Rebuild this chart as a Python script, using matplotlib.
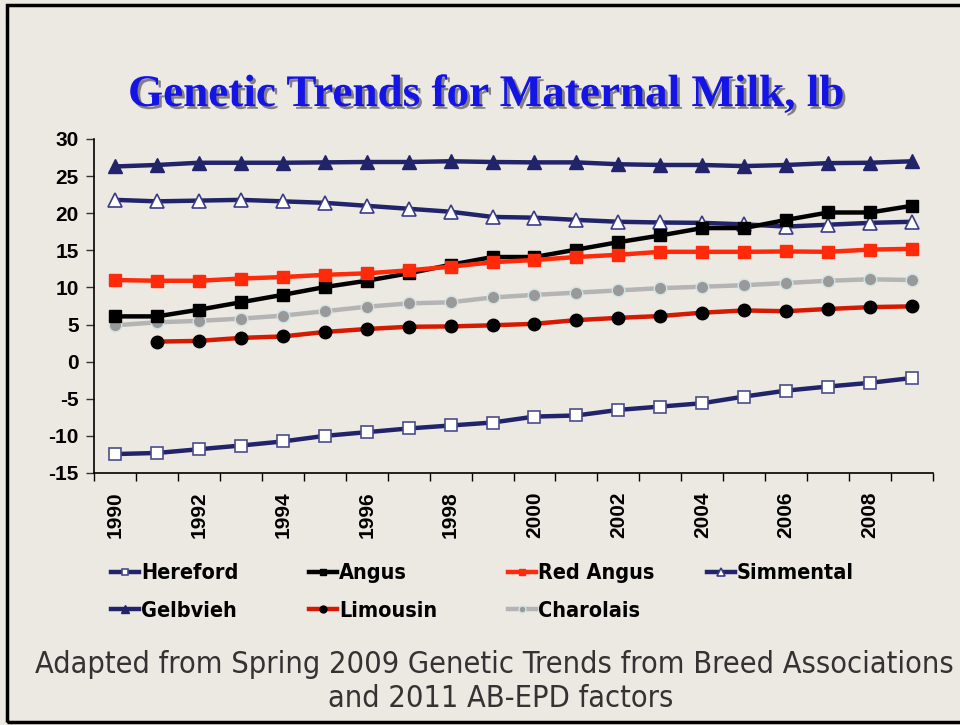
import numpy as np
import matplotlib
matplotlib.use("Agg")
import matplotlib.pyplot as plt
import matplotlib.patheffects as pe
from matplotlib.patches import Rectangle

# ---- data (lb) ----
years = list(range(1990, 2010))

hereford  = [-12.45, -12.3, -11.8, -11.3, -10.75, -10.0, -9.5, -9.0, -8.6, -8.2,
             -7.4, -7.25, -6.5, -6.05, -5.6, -4.7, -3.9, -3.35, -2.85, -2.2]
angus     = [6.1, 6.1, 7.0, 8.0, 9.0, 10.05, 10.9, 11.9, 13.05, 14.1,
             14.1, 15.1, 16.1, 17.0, 18.0, 18.0, 19.1, 20.1, 20.1, 21.0]
red_angus = [11.0, 10.9, 10.9, 11.2, 11.4, 11.7, 11.9, 12.3, 12.8, 13.4,
             13.7, 14.1, 14.4, 14.8, 14.8, 14.8, 14.85, 14.8, 15.1, 15.2]
simmental = [21.8, 21.6, 21.7, 21.8, 21.6, 21.4, 21.0, 20.6, 20.2, 19.5,
             19.4, 19.1, 18.85, 18.75, 18.7, 18.5, 18.2, 18.45, 18.7, 18.85]
gelbvieh  = [26.3, 26.5, 26.8, 26.8, 26.8, 26.85, 26.9, 26.9, 27.0, 26.9,
             26.85, 26.85, 26.6, 26.5, 26.5, 26.35, 26.5, 26.75, 26.8, 27.0]
limousin  = [np.nan, 2.7, 2.8, 3.2, 3.4, 4.0, 4.4, 4.7, 4.75, 4.9,
             5.1, 5.6, 5.9, 6.15, 6.6, 6.9, 6.8, 7.1, 7.35, 7.45]
charolais = [4.9, 5.3, 5.5, 5.8, 6.2, 6.8, 7.4, 7.85, 8.0, 8.65,
             9.0, 9.3, 9.6, 9.9, 10.1, 10.3, 10.6, 10.9, 11.1, 11.0]

yticks = list(range(-15, 31, 5))

BG = "#ECE8E2"
NAVY = "#22246A"

fig = plt.figure(figsize=(9.6, 7.25), dpi=100, facecolor=BG)
ax = fig.add_axes([94 / 960, 1 - 473 / 725, 839 / 960, 334 / 725])
ax.set_facecolor("none")

x = np.arange(len(years))
lw = 3.2
ms = 9.0

series = [
    ("Hereford",  hereford,  dict(color=NAVY, marker="s", mfc="white", mec="#4A4C8C", mew=1.2)),
    ("Angus",     angus,     dict(color="black", marker="s", mfc="black", mec="black")),
    ("Red Angus", red_angus, dict(color="#FF2A0A", marker="s", mfc="#FF2A0A", mec="#FF2A0A")),
    ("Simmental", simmental, dict(color=NAVY, marker="^", mfc="white", mec="#3A3C88", mew=1.2)),
    ("Gelbvieh",  gelbvieh,  dict(color=NAVY, marker="^", mfc=NAVY, mec=NAVY)),
    ("Limousin",  limousin,  dict(color="#D41A00", marker="o", mfc="black", mec="black")),
    ("Charolais", charolais, dict(color="#B4B4B4", marker="o", mfc="#999999", mec="#CFE3E6", mew=1.0)),
]

handles = {}
# draw back-to-front roughly as the slide does
order = ["Charolais", "Limousin", "Hereford", "Simmental", "Gelbvieh", "Angus", "Red Angus"]
lookup = {n: (v, s) for n, v, s in series}
for name in order:
    vals, style = lookup[name]
    h, = ax.plot(x, vals, lw=lw, ms=ms if style["marker"] != "^" else ms + 1,
                 label=name, solid_joinstyle="miter", **style)
    handles[name] = h

ax.set_xlim(-0.5, len(years) - 0.5)
ax.set_ylim(-15, 30)
ax.set_yticks(yticks)
ax.set_yticklabels([str(t) for t in yticks], fontsize=15, fontweight="bold",
                   family="Liberation Sans")
ax.set_xticks(np.arange(-0.5, len(years), 1.0))
ax.set_xticklabels([])
ax.set_xticks(x[::2], minor=True)
ax.set_xticklabels([str(y) for y in years[::2]], minor=True, rotation=90,
                   fontsize=15, fontweight="bold", family="Liberation Sans")
ax.tick_params(axis="x", which="major", direction="out", length=6, width=1, color="black")
ax.tick_params(axis="x", which="minor", length=0, pad=13)
ax.tick_params(axis="y", direction="out", length=6, width=1, color="#333333", pad=5)
for s in ("top", "right"):
    ax.spines[s].set_visible(False)
for s in ("left", "bottom"):
    ax.spines[s].set_linewidth(1.2)
    ax.spines[s].set_color("black")

# legend: four columns, two rows, like the Excel legend
cols = [(103, ["Hereford", "Gelbvieh"]), (301, ["Angus", "Limousin"]),
        (500, ["Red Angus", "Charolais"]), (699, ["Simmental"])]
for cx, names in cols:
    fig.legend([handles[n] for n in names], names,
               loc="upper left", bbox_to_anchor=(cx / 960 - 0.012, 1 - 544 / 725),
               frameon=False, markerscale=0.55, handlelength=1.3,
               handletextpad=0.1, labelspacing=0.8,
               prop=dict(family="DejaVu Sans", stretch="condensed", weight="bold", size=15.5))

# title with drop shadow
fig.text(0.506, 1 - 106 / 725, "Genetic Trends for Maternal Milk, lb",
         ha="center", va="baseline", color="#1414E6", fontsize=32.5, fontweight="bold",
         family=["Liberation Serif", "DejaVu Serif"],
         path_effects=[pe.SimplePatchShadow(offset=(2, -2), shadow_rgbFace="#555555", alpha=0.7),
                       pe.Normal()])

# source note
fig.text(0.515, 1 - 673 / 725,
         "Adapted from Spring 2009 Genetic Trends from Breed Associations",
         ha="center", va="baseline", color="#333333", fontsize=22,
         family="DejaVu Sans", stretch="condensed")
fig.text(0.522, 1 - 707 / 725, "and 2011 AB-EPD factors",
         ha="center", va="baseline", color="#333333", fontsize=22,
         family="DejaVu Sans", stretch="condensed")

# slide border
fig.patches.append(Rectangle((7 / 960, 3 / 725), 1.2, 1 - 8 / 725,
                             transform=fig.transFigure, fill=False,
                             edgecolor="black", lw=2.5))

fig.savefig("out.png", dpi=100, facecolor=BG)
